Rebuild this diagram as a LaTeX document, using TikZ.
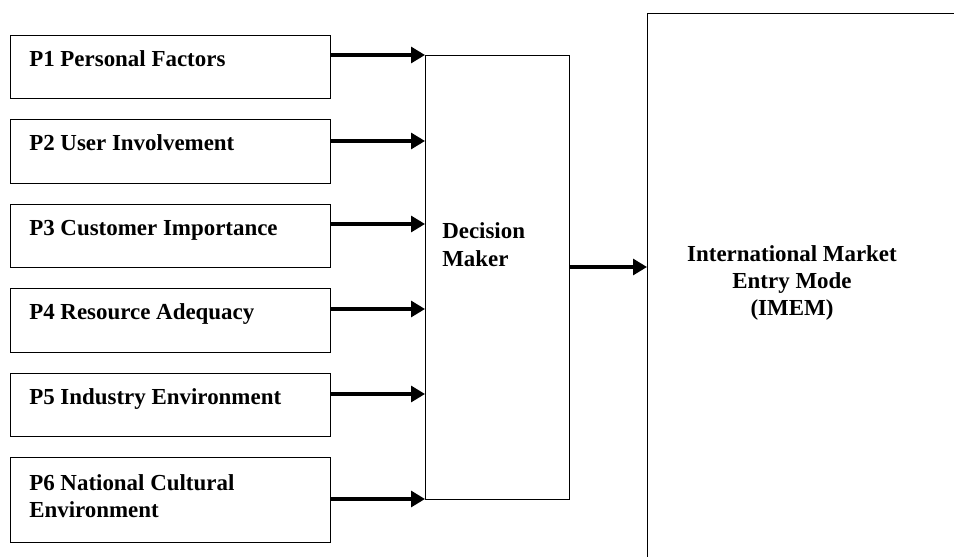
\documentclass[tikz,border=0pt]{standalone}
\usepackage{fontspec}
\setmainfont{Liberation Serif}
\usetikzlibrary{arrows.meta,calc}
\begin{document}
\begin{tikzpicture}[x=0.75pt,y=-0.75pt,
  box/.style={draw,line width=0.6pt,anchor=north west,inner sep=0pt,outer sep=0pt,minimum width=320*0.75pt},
  lbl/.style={font=\fontsize{17.2pt}{20.25pt}\selectfont\bfseries,inner sep=0pt},
  arr/.style={line width=2.3pt,-{Triangle[length=10.5pt,width=12pt]}}]
\useasboundingbox (0,0) rectangle (954,557);
\clip (0,0) rectangle (954,557);
% factor boxes
\node[box,minimum height=63*0.75pt] (p1) at (10,35) {};
\node[box,minimum height=64*0.75pt] (p2) at (10,119) {};
\node[box,minimum height=63*0.75pt] (p3) at (10,204) {};
\node[box,minimum height=64*0.75pt] (p4) at (10,288) {};
\node[box,minimum height=63*0.75pt] (p5) at (10,373) {};
\node[box,minimum height=85*0.75pt] (p6) at (10,457) {};
\node[lbl,anchor=base west] (t1) at ($(p1.north west)+(19,31)$) {P1 Personal Factors};
\node[lbl,anchor=base west] (t2) at ($(p2.north west)+(19,31)$) {P2 User Involvement};
\node[lbl,anchor=base west] (t3) at ($(p3.north west)+(19,31)$) {P3 Customer Importance};
\node[lbl,anchor=base west] (t4) at ($(p4.north west)+(19,31)$) {P4 Resource Adequacy};
\node[lbl,anchor=base west] (t5) at ($(p5.north west)+(19,31)$) {P5 Industry Environment};
\node[lbl,anchor=base west] (t6a) at ($(p6.north west)+(19,33)$) {P6 National Cultural};
\node[lbl,anchor=base west] (t6b) at ($(t6a.base west)+(0,27)$) {Environment};
% decision maker
\node[box,minimum width=144*0.75pt,minimum height=444*0.75pt] (dm) at (425,55) {};
\node[lbl,anchor=base west] (d1) at ($(dm.north west)+(17,183)$) {Decision};
\node[lbl,anchor=base west] (d2) at ($(d1.base west)+(0,28)$) {Maker};
% IMEM
\node[box,minimum width=330*0.75pt,minimum height=560*0.75pt] (im) at (647,13) {};
\node[lbl,anchor=base] (i1) at ($(im.north west)+(145,248)$) {International Market};
\node[lbl,anchor=base] (i2) at ($(i1.base)+(0,27)$) {Entry Mode};
\node[lbl,anchor=base] (i3) at ($(i2.base)+(0,27)$) {(IMEM)};
% arrows
\draw[arr] ($(p1.north east)+(0,20)$) -- (dm.north west);
\draw[arr] ($(p2.north east)+(0,22)$) -- ($(dm.north west)+(0,86)$);
\draw[arr] ($(p3.north east)+(0,20)$) -- ($(dm.north west)+(0,169)$);
\draw[arr] ($(p4.north east)+(0,21)$) -- ($(dm.north west)+(0,254)$);
\draw[arr] ($(p5.north east)+(0,21)$) -- ($(dm.north west)+(0,339)$);
\draw[arr] ($(p6.north east)+(0,42)$) -- (dm.south west);
\draw[arr] ($(dm.north east)+(0,212)$) -- ($(im.north west)+(0,254)$);
\end{tikzpicture}
\end{document}
